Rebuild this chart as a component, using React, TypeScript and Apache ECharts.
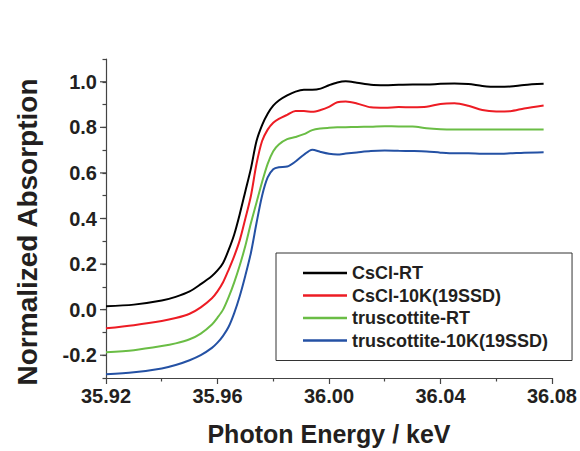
import React, { useEffect, useRef } from "react";
import * as echarts from "echarts";

const energy = [
  35.92, 35.93, 35.94, 35.945, 35.95, 35.954, 35.958, 35.96, 35.962, 35.964,
  35.966, 35.968, 35.97, 35.972, 35.974, 35.976, 35.978, 35.98, 35.982, 35.985,
  35.988, 35.991, 35.994, 35.997, 36.0, 36.003, 36.006, 36.01, 36.015, 36.02,
  36.025, 36.03, 36.035, 36.04, 36.045, 36.05, 36.055, 36.06, 36.065, 36.07, 36.077,
];

const csclRT = [
  0.015, 0.022, 0.04, 0.056, 0.08, 0.112, 0.148, 0.172, 0.205, 0.262,
  0.33, 0.42, 0.52, 0.62, 0.74, 0.81, 0.86, 0.895, 0.918, 0.94,
  0.957, 0.965, 0.965, 0.97, 0.985, 0.997, 1.002, 0.996, 0.987, 0.985,
  0.987, 0.988, 0.988, 0.991, 0.992, 0.99, 0.982, 0.978, 0.979, 0.986, 0.991,
];

const cscl10K = [
  -0.082, -0.068, -0.05, -0.037, -0.018, 0.01, 0.05, 0.08, 0.12, 0.175,
  0.235, 0.305, 0.4, 0.5, 0.64, 0.74, 0.79, 0.82, 0.837, 0.855,
  0.872, 0.872, 0.868, 0.876, 0.89, 0.91, 0.913, 0.905, 0.888, 0.886,
  0.889, 0.888, 0.89, 0.903, 0.906, 0.895, 0.876, 0.87, 0.871, 0.883, 0.896,
];

const trusRT = [
  -0.187, -0.178, -0.16, -0.148, -0.13, -0.105, -0.065, -0.035, 0.0, 0.055,
  0.12, 0.195, 0.28, 0.38, 0.47, 0.56, 0.64, 0.695, 0.725, 0.748,
  0.758, 0.77, 0.788, 0.795, 0.798, 0.8, 0.801, 0.802, 0.803, 0.805,
  0.804, 0.804, 0.796, 0.792, 0.791, 0.791, 0.791, 0.791, 0.791, 0.791, 0.791,
];

const trus10K = [
  -0.284, -0.275, -0.258, -0.243, -0.222, -0.2, -0.168, -0.145, -0.115, -0.075,
  -0.015, 0.06, 0.15, 0.25, 0.38, 0.5, 0.58, 0.616, 0.625, 0.628,
  0.65, 0.68, 0.702, 0.692, 0.684, 0.681, 0.685, 0.69, 0.696, 0.698,
  0.697, 0.696, 0.694, 0.689, 0.686, 0.686, 0.684, 0.684, 0.686, 0.689, 0.691,
];

const seriesNames = [
  "CsCl-RT",
  "CsCl-10K(19SSD)",
  "truscottite-RT",
  "truscottite-10K(19SSD)",
];
const seriesColors = ["#000000", "#ED1C24", "#6ABD45", "#2451A4"];
const seriesValues = [csclRT, cscl10K, trusRT, trus10K];

const X_MIN = 35.92;
const X_MAX = 36.08;
const Y_MIN = -0.3;
const Y_MAX = 1.1;
const yMajorTicks = [-0.2, 0.0, 0.2, 0.4, 0.6, 0.8, 1.0];

const FONT = "'Liberation Sans', Arial, Helvetica, sans-serif";
const TEXT_COLOR = "#231f20";
const AXIS_COLOR = "#444444";

export default function App() {
  const ref = useRef<HTMLDivElement>(null);

  useEffect(() => {
    if (!ref.current) return;
    const chart = echarts.init(ref.current, null, { renderer: "svg" });

    const titleGraphics = [
      {
        id: "ytitle",
        type: "text",
        x: 27,
        y: 232,
        rotation: Math.PI / 2,
        style: {
          text: "Normalized Absorption",
          font: `bold 28px ${FONT}`,
          fill: TEXT_COLOR,
          textAlign: "center",
          textVerticalAlign: "middle",
        },
      },
    ];

    const option: any = {
      animation: false,
      backgroundColor: "#ffffff",
      grid: { left: 106, right: 27, top: 59, bottom: 71, containLabel: false },
      legend: {
        orient: "vertical",
        left: 276,
        top: 253,
        padding: [11, 24, 11, 27],
        itemGap: 4.5,
        itemWidth: 44,
        itemHeight: 2.5,
        itemTextGap: 5,
        icon: "rect",
        borderColor: "#333333",
        borderWidth: 1,
        backgroundColor: "#ffffff",
        data: seriesNames,
        textStyle: {
          fontSize: 18,
          fontWeight: "bold",
          fontFamily: FONT,
          color: TEXT_COLOR,
          lineHeight: 18,
        },
      },
      xAxis: {
        type: "value",
        min: X_MIN,
        max: X_MAX,
        interval: 0.04,
        name: "Photon Energy / keV",
        nameLocation: "middle",
        nameGap: 43,
        nameTextStyle: {
          fontSize: 25,
          fontWeight: "bold",
          fontFamily: FONT,
          color: TEXT_COLOR,
        },
        axisLine: { onZero: false, lineStyle: { color: AXIS_COLOR, width: 1.2 } },
        axisTick: { show: true, inside: false, length: 6, lineStyle: { color: AXIS_COLOR, width: 1.2 } },
        minorTick: { show: true, splitNumber: 2, length: 3.5, lineStyle: { color: AXIS_COLOR, width: 1.2 } },
        splitLine: { show: false },
        minorSplitLine: { show: false },
        axisLabel: {
          margin: 8,
          fontSize: 20,
          fontWeight: "bold",
          fontFamily: FONT,
          color: TEXT_COLOR,
          formatter: (v: number) => v.toFixed(2),
        },
      },
      yAxis: {
        type: "value",
        min: Y_MIN,
        max: Y_MAX,
        interval: 0.1,
        axisLine: { show: true, onZero: false, lineStyle: { color: AXIS_COLOR, width: 1.2 } },
        axisTick: { show: true, inside: false, length: 3.5, lineStyle: { color: AXIS_COLOR, width: 1.2 } },
        splitLine: { show: false },
        axisLabel: {
          margin: 9,
          fontSize: 20,
          fontWeight: "bold",
          fontFamily: FONT,
          color: TEXT_COLOR,
          formatter: (v: number) => {
            const r = Math.round(v * 10);
            if (r % 2 !== 0) return "";
            return (r / 10).toFixed(1);
          },
        },
      },
      series: seriesNames.map((name, i) => ({
        name,
        type: "line",
        data: energy.map((e, j) => [e, seriesValues[i][j]]),
        showSymbol: false,
        symbol: "none",
        smooth: 0.3,
        color: seriesColors[i],
        lineStyle: { color: seriesColors[i], width: 2 },
        z: 10 - i,
      })),
      graphic: titleGraphics,
    };

    chart.setOption(option);

    const axisX = chart.convertToPixel({ xAxisIndex: 0 }, X_MIN) as number;
    const tickGraphics = yMajorTicks.map((v, i) => {
      const y = chart.convertToPixel({ yAxisIndex: 0 }, v) as number;
      return {
        id: "ymaj" + i,
        type: "line",
        shape: { x1: axisX - 6, y1: y, x2: axisX, y2: y },
        style: { stroke: AXIS_COLOR, lineWidth: 1.2 },
      };
    });
    chart.setOption({ graphic: [...titleGraphics, ...tickGraphics] });

    return () => chart.dispose();
  }, []);

  return (
    <div
      ref={ref}
      style={{ position: "fixed", left: 0, top: 0, width: 580, height: 451 }}
    />
  );
}
